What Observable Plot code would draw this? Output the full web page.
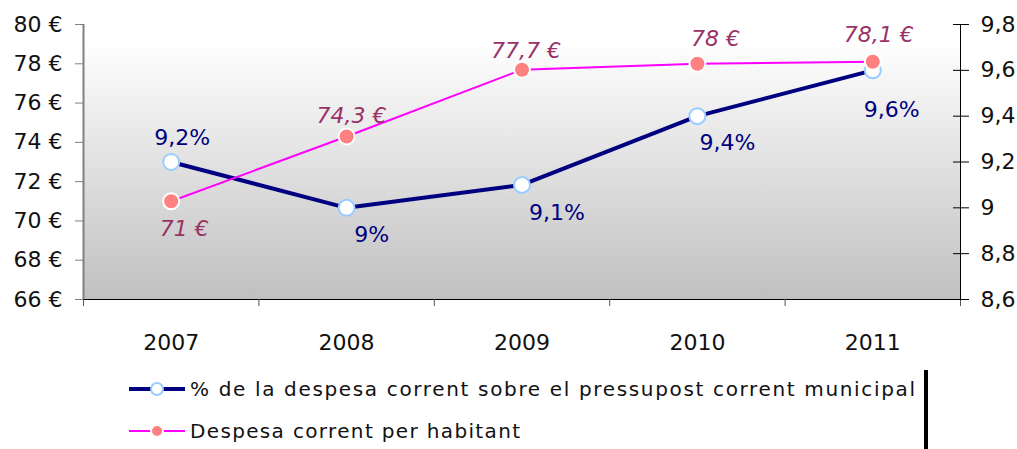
<!DOCTYPE html>
<html><head><meta charset="utf-8">
<script src="https://cdn.jsdelivr.net/npm/d3@7"></script>
<script src="https://cdn.jsdelivr.net/npm/@observablehq/plot@0.6"></script>
<style>
body{margin:0;background:#fff;font-family:"DejaVu Sans",sans-serif;}
#chart svg{display:block}
</style>
</head><body><div id="chart"></div>
<script>
// ---- data ----
const years = [2007, 2008, 2009, 2010, 2011];
const pctValues = [9.2, 9.0, 9.1, 9.4, 9.6];
const pctLabels = ["9,2%", "9%", "9,1%", "9,4%", "9,6%"];
const eurValues = [71, 74.3, 77.7, 78, 78.1];
const eurLabels = ["71 €", "74,3 €", "77,7 €", "78 €", "78,1 €"];
const leftTicks = [66, 68, 70, 72, 74, 76, 78, 80];
const rightTicks = [8.6, 8.8, 9.0, 9.2, 9.4, 9.6, 9.8];
const rightTickLabels = ["8,6", "8,8", "9", "9,2", "9,4", "9,6", "9,8"];
const seriesNames = ["% de la despesa corrent sobre el pressupost corrent municipal", "Despesa corrent per habitant"];

// ---- scales helpers ----
const leftDomain = [66, 80];
const rightDomain = [8.6, 9.8];
const toLeft = d3.scaleLinear().domain(rightDomain).range(leftDomain);
const xDomain = [years[0] - 0.5, years[years.length - 1] + 0.5];
const bounds = d3.range(years.length + 1).map(i => xDomain[0] + i);

const pctData = years.map((y, i) => ({year: y, v: toLeft(pctValues[i]), label: pctLabels[i]}));
const eurData = years.map((y, i) => ({year: y, v: eurValues[i], label: eurLabels[i]}));

const NAVY = "#000080", MAG = "#ff00ff", PINK = "#ff8080", PLUM = "#993366";

// label placement offsets (style)
const pctOff = [[11, -24], [25, 27], [35, 28], [30, 27], [19, 40]];
const eurOff = [[13, 28], [5, -21], [4, -19], [18, -25], [6, -27]];

const labelMarks = [];
pctData.forEach((d, i) => labelMarks.push(Plot.text([d], {x: "year", y: "v", text: "label", dx: pctOff[i][0], dy: pctOff[i][1], fill: NAVY, fontSize: 22})));
eurData.forEach((d, i) => labelMarks.push(Plot.text([d], {x: "year", y: "v", text: "label", dx: eurOff[i][0], dy: eurOff[i][1], fill: PLUM, fontSize: 22, fontStyle: "italic"})));

const chart = Plot.plot({
  width: 1017,
  height: 360,
  marginTop: 24,
  marginBottom: 61,
  marginLeft: 83,
  marginRight: 57,
  style: {fontFamily: "'DejaVu Sans', sans-serif", fontSize: "22px", color: "#000", background: "transparent"},
  x: {domain: xDomain, label: null},
  y: {domain: leftDomain, label: null},
  marks: [
    Plot.frame({fill: "url(#bgGrad)", stroke: "none"}),
    Plot.ruleY([leftDomain[0]], {stroke: "#000", strokeWidth: 1.2}),
    Plot.ruleX([xDomain[0]], {stroke: "#808080", strokeWidth: 2}),
    Plot.ruleX([xDomain[1]], {stroke: "#000", strokeWidth: 1}),
    Plot.axisX({ticks: bounds, tickFormat: () => "", tickSize: 7, stroke: "#555", label: null}),
    Plot.axisX({ticks: years, tickFormat: d => String(d), tickSize: 0, tickPadding: 35, fontSize: 22, fill: "#111", label: null}),
    Plot.axisY({anchor: "left", ticks: leftTicks, tickFormat: d => d + " €", tickSize: 8, tickPadding: 13, fontSize: 22, stroke: "#808080", fill: "#111", label: null}),
    Plot.axisY({anchor: "right", ticks: rightTicks.map(toLeft), tickFormat: (d, i) => rightTickLabels[i], tickSize: 16, dx: -8, tickPadding: 12, fontSize: 22, stroke: "#000", fill: "#111", label: null}),
    Plot.line(pctData, {x: "year", y: "v", stroke: NAVY, strokeWidth: 4}),
    Plot.line(eurData, {x: "year", y: "v", stroke: MAG, strokeWidth: 2}),
    Plot.dot(pctData, {x: "year", y: "v", r: 8, fill: "#fff", stroke: "#99ccff", strokeWidth: 2}),
    Plot.dot(eurData, {x: "year", y: "v", r: 8, fill: PINK, stroke: "#fff", strokeWidth: 2}),
    ...labelMarks
  ]
});

d3.select(chart).insert("defs", ":first-child").html(
  '<linearGradient id="bgGrad" x1="0" y1="0" x2="0" y2="1">' +
  '<stop offset="0" stop-color="#ffffff"/><stop offset="0.06" stop-color="#ffffff"/>' +
  '<stop offset="1" stop-color="#c0c0c0"/></linearGradient>');

document.getElementById("chart").appendChild(chart);

// ---- legend ----
const leg = d3.select("#chart").append("svg").attr("width", 1017).attr("height", 89)
  .style("display", "block").style("font-family", "'DejaVu Sans', sans-serif");
const rows = [
  {name: seriesNames[0], stroke: NAVY, sw: 4, fill: "#fff", mstroke: "#99ccff", y: 29, len: 725},
  {name: seriesNames[1], stroke: MAG, sw: 2, fill: PINK, mstroke: "#fff", y: 71, len: 330}
];
rows.forEach(r => {
  leg.append("line").attr("x1", 129).attr("x2", 185).attr("y1", r.y).attr("y2", r.y)
    .attr("stroke", r.stroke).attr("stroke-width", r.sw);
  leg.append("circle").attr("cx", 157).attr("cy", r.y).attr("r", 6)
    .attr("fill", r.fill).attr("stroke", r.mstroke).attr("stroke-width", 2);
  leg.append("text").attr("x", 190).attr("y", r.y + 7).attr("font-size", 20).attr("fill", "#111")
    .attr("textLength", r.len).attr("lengthAdjust", "spacing").text(r.name);
});
leg.append("rect").attr("x", 924).attr("y", 10).attr("width", 4).attr("height", 79).attr("fill", "#000");
</script>
</body></html>
